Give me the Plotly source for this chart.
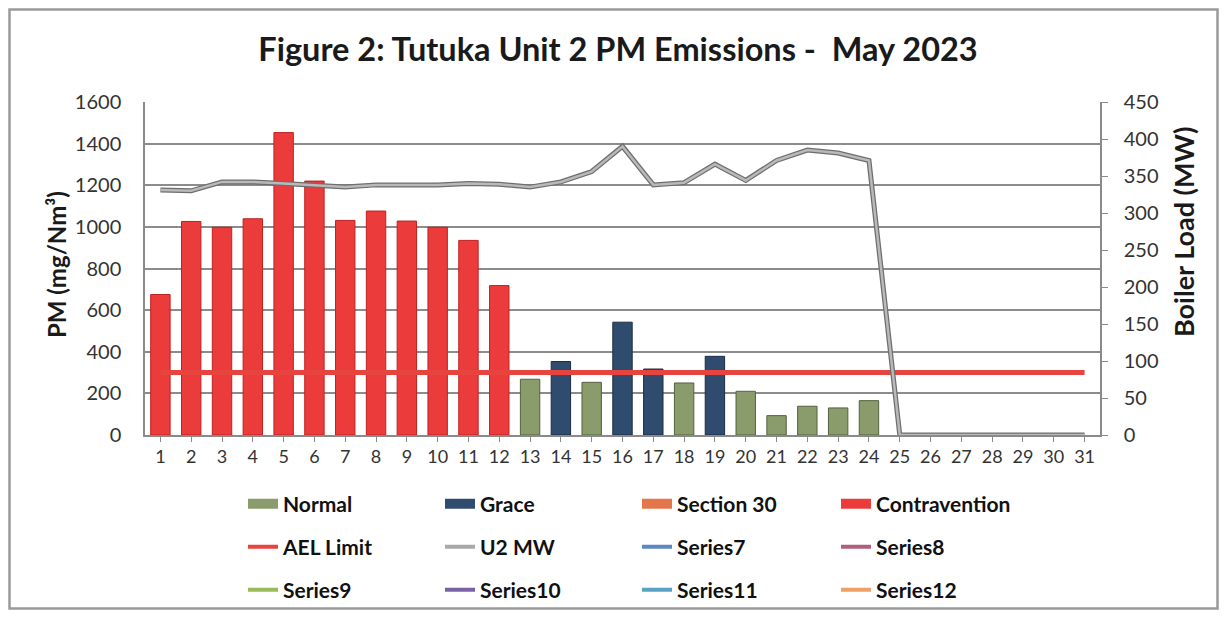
import plotly.graph_objects as go

# ---------------- data ----------------
days = [str(d) for d in range(1, 32)]

pm_normal = [None, None, None, None, None, None, None, None, None, None, None, None,
             268, None, 253, None, None, 250, None, 210, 93, 138, 130, 165,
             None, None, None, None, None, None, None]
pm_grace = [None, None, None, None, None, None, None, None, None, None, None, None,
            None, 353, None, 542, 317, None, 378, None, None, None, None, None,
            None, None, None, None, None, None, None]
pm_section30 = [None] * 31
pm_contravention = [675, 1026, 998, 1039, 1453, 1220, 1031, 1076, 1028, 998, 935, 718,
                    None, None, None, None, None, None, None, None, None, None, None, None,
                    None, None, None, None, None, None, None]
ael_limit = [300, 300, 300, 300, 300, 300, 300, 300, 300, 300, 300, 300, 300, 300, 300, 300,
             300, 300, 300, 300, 300, 300, 300, 300, 300, 300, 300, 300, 300, 300, 300]
u2_mw = [331, 330, 342, 342, 340, 338, 335, 338, 338, 338, 340, 339, 335, 342, 356, 390,
         338, 341, 366, 344, 371, 385, 381, 371, 0, 0, 0, 0, 0, 0, 0]

extra_series = ["Series7", "Series8", "Series9", "Series10", "Series11", "Series12"]
extra_colors = ["#5B8AC2", "#B0607E", "#9BBB59", "#7A62A6", "#5AA2C4", "#EFA066"]

left_ticks = [0, 200, 400, 600, 800, 1000, 1200, 1400, 1600]
right_ticks = [0, 50, 100, 150, 200, 250, 300, 350, 400, 450]

C_NORMAL = "#8A9B6C"
C_GRACE = "#2F4B6E"
C_S30 = "#E3764A"
C_CONTRA = "#EC3B3B"
C_AEL = "#E8443F"
FONT = "Lato"

fig = go.Figure()

# bars
bar_specs = [("Normal", pm_normal, C_NORMAL, "#55603f"),
             ("Grace", pm_grace, C_GRACE, "#1c2d44"),
             ("Section 30", pm_section30, C_S30, "#a0502e"),
             ("Contravention", pm_contravention, C_CONTRA, "#c02020")]
for name, vals, col, edge in bar_specs:
    fig.add_trace(go.Bar(x=days, y=vals, name=name, marker=dict(color=col, line=dict(color=edge, width=1)),
                         showlegend=False, yaxis="y"))

# AEL limit
fig.add_trace(go.Scatter(x=days, y=ael_limit, mode="lines", name="AEL Limit",
                         line=dict(color=C_AEL, width=5), showlegend=False, yaxis="y"))

# U2 MW (double-line look)
fig.add_trace(go.Scatter(x=days, y=u2_mw, mode="lines", name="U2 MW edge",
                         line=dict(color="#6e6e6e", width=5), showlegend=False, yaxis="y2",
                         hoverinfo="skip"))
fig.add_trace(go.Scatter(x=days, y=u2_mw, mode="lines", name="U2 MW",
                         line=dict(color="#b9b9b9", width=2.5), showlegend=False, yaxis="y2"))

# legend entries: 3 rows x 4 columns, each entry its own legend for exact placement
legend_items = [("Normal", C_NORMAL, 10), ("Grace", C_GRACE, 10), ("Section 30", C_S30, 10),
                ("Contravention", C_CONTRA, 10),
                ("AEL Limit", C_AEL, 4), ("U2 MW", "#a8a8a8", 4),
                (extra_series[0], extra_colors[0], 4), (extra_series[1], extra_colors[1], 4),
                (extra_series[2], extra_colors[2], 4), (extra_series[3], extra_colors[3], 4),
                (extra_series[4], extra_colors[4], 4), (extra_series[5], extra_colors[5], 4)]
empty = [None] * 31

OFF = 8  # page body margin in the browser
L, R, T, B = 145 - OFF, 1100 - OFF, 102 - OFF, 435 - OFF
W, H = 1227 - 2 * OFF, 618 - 2 * OFF
pw, ph = R - L, B - T


def px(x):
    return (x - OFF - L) / pw


def py(y):
    return (B - (y - OFF)) / ph


col_text_x = [284, 481, 678, 877]
row_y = [504, 547, 590]
legend_layouts = {}
for i, (name, col, lw) in enumerate(legend_items):
    key = "legend" if i == 0 else "legend%d" % (i + 1)
    fig.add_trace(go.Scatter(x=days, y=empty, mode="lines", name=name,
                             line=dict(color=col, width=lw), legend=key, yaxis="y"))
    r, c = divmod(i, 4)
    legend_layouts[key] = dict(orientation="h", xanchor="left", yanchor="middle",
                               x=px(col_text_x[c] - 41), y=py(row_y[r]),
                               font=dict(family=FONT, size=21, color="#111111", weight="bold"),
                               bgcolor="rgba(0,0,0,0)")

fig.update_layout(
    width=W, height=H,
    margin=dict(l=L, r=W - R, t=T, b=H - B, autoexpand=False),
    paper_bgcolor="white", plot_bgcolor="white",
    barmode="overlay", bargap=0.37,
    title=dict(text="<b>Figure 2: Tutuka Unit 2 PM Emissions -  May 2023</b>",
               x=px(618), xref="paper", xanchor="center", y=1 - (50 - OFF) / H, yanchor="middle",
               font=dict(family=FONT, size=32.5, color="#1a1a1a")),
    xaxis=dict(type="category", range=[-0.5, 30.5], showgrid=False,
               showline=True, linecolor="#8a8a8a", linewidth=1.5,
               ticks="outside", ticklen=5, tickcolor="#8a8a8a",
               tickfont=dict(family=FONT, size=18, color="#333333")),
    yaxis=dict(range=[0, 1600], tickvals=left_ticks, showgrid=True, gridcolor="#8c8c8c", gridwidth=1.5,
               showline=True, linecolor="#8a8a8a", linewidth=1.5, zeroline=False,
               ticks="", ticklabelstandoff=18,
               tickfont=dict(family=FONT, size=20, color="#333333")),
    yaxis2=dict(range=[0, 450], tickvals=right_ticks, overlaying="y", side="right", showgrid=False,
                showline=True, linecolor="#8a8a8a", linewidth=1.5, zeroline=False,
                ticks="outside", ticklen=6, tickcolor="#8a8a8a", ticklabelstandoff=12,
                tickfont=dict(family=FONT, size=20, color="#333333")),
    annotations=[
        dict(text="<b>PM (mg/Nm³)</b>", xref="paper", yref="paper", x=px(56), y=py(265),
             textangle=-90, showarrow=False, xanchor="center", yanchor="middle",
             font=dict(family=FONT, size=24, color="#1a1a1a")),
        dict(text="<b>Boiler Load (MW)</b>", xref="paper", yref="paper", x=px(1183), y=py(232),
             textangle=-90, showarrow=False, xanchor="center", yanchor="middle",
             font=dict(family=FONT, size=27, color="#1a1a1a")),
    ],
    shapes=[dict(type="rect", xref="paper", yref="paper",
                 x0=px(OFF + 1.5), x1=px(OFF + W - 1.5), y0=py(OFF + H - 1.5), y1=py(OFF + 1.5),
                 line=dict(color="#9a9a9a", width=2.5), fillcolor="rgba(0,0,0,0)", layer="below")],
    **legend_layouts,
)

fig.write_html("out.html")
